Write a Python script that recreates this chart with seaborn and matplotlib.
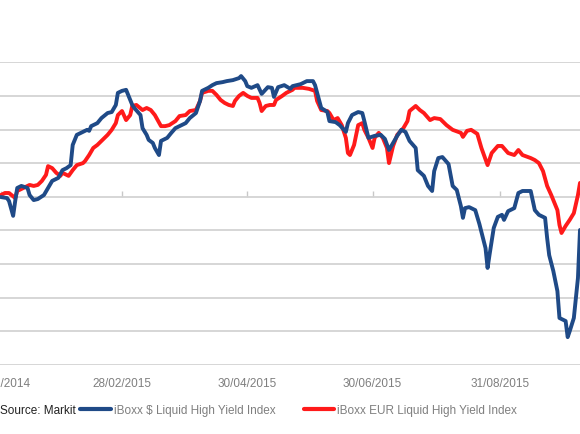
import pandas as pd
import matplotlib
matplotlib.use("Agg")
import matplotlib.pyplot as plt
import matplotlib.dates as mdates
from matplotlib.lines import Line2D
import seaborn as sns

# days since 31/12/2014 (index rebased to 100 on that date)
usd_day = [0, 3, 4, 6, 7, 8, 10, 13, 14, 16, 18, 21, 23, 25, 28, 30, 32, 34, 35, 37,
           40, 42, 43, 44, 47, 49, 52, 54, 56, 57, 59, 61, 62, 64, 65, 68, 69, 71, 72, 74,
           75, 77, 78, 81, 83, 85, 87, 90, 92, 95, 97, 98, 101, 103, 105, 108, 110, 113, 116, 117,
           119, 120, 122, 125, 127, 130, 132, 133, 135, 138, 141, 142, 146, 149, 152, 153, 154, 156, 159, 160,
           163, 165, 168, 169, 171, 174, 176, 177, 179, 182, 185, 187, 189, 193, 195, 197, 199, 202, 203, 206,
           208, 210, 211, 213, 215, 218, 220, 222, 224, 225, 226, 228, 231, 233, 236, 237, 238, 240, 242, 244,
           245, 247, 250, 252, 254, 258, 260, 262, 265, 266, 267, 269, 271, 272, 275, 276, 277, 279, 281, 282]
usd_val = [99.99, 99.96, 99.87, 99.43, 99.87, 100.26, 100.32, 100.26, 100.05, 99.90,
           99.93, 100.05, 100.26, 100.47, 100.56, 100.79, 100.85, 100.94, 101.54, 101.84,
           101.93, 101.99, 101.96, 102.10, 102.19, 102.34, 102.49, 102.52, 102.73, 103.09,
           103.15, 103.18, 103.03, 102.73, 102.64, 102.43, 102.04, 101.84, 101.69, 101.60,
           101.45, 101.24, 101.66, 101.75, 101.90, 102.04, 102.10, 102.19, 102.34, 102.49,
           102.85, 103.15, 103.24, 103.32, 103.38, 103.41, 103.44, 103.47, 103.53, 103.59,
           103.44, 103.29, 103.24, 103.32, 103.06, 103.26, 103.24, 102.97, 103.26, 103.32,
           103.21, 103.29, 103.35, 103.44, 103.44, 103.32, 103.09, 102.64, 102.52, 102.25,
           102.22, 102.13, 101.93, 102.19, 102.43, 102.52, 102.49, 102.25, 101.75, 101.81,
           101.84, 101.72, 101.39, 101.81, 101.99, 101.93, 101.66, 101.45, 100.79, 100.62,
           100.32, 100.17, 100.76, 101.15, 101.18, 100.97, 100.32, 100.20, 99.72, 99.37,
           99.66, 99.69, 99.60, 99.19, 98.47, 97.88, 98.29, 99.07, 99.40, 99.46,
           99.31, 99.57, 99.66, 100.11, 100.17, 100.17, 99.60, 99.46, 99.37, 98.77,
           98.26, 97.79, 97.19, 96.39, 96.30, 95.82, 96.00, 96.39, 97.58, 99.01]

eur_day = [0, 2, 4, 7, 8, 11, 14, 16, 18, 20, 22, 23, 25, 27, 29, 30, 33, 35, 37, 40,
           41, 43, 45, 47, 49, 52, 54, 56, 57, 59, 61, 63, 64, 66, 69, 71, 73, 75, 78, 80,
           82, 85, 87, 90, 92, 95, 97, 98, 101, 103, 105, 107, 109, 111, 113, 114, 116, 118, 120, 122,
           125, 126, 127, 129, 131, 133, 134, 137, 139, 142, 143, 147, 150, 153, 154, 156, 159, 160, 162, 164,
           166, 168, 169, 170, 172, 174, 176, 177, 179, 181, 182, 184, 186, 188, 189, 191, 193, 196, 198, 199,
           202, 204, 206, 209, 211, 214, 217, 220, 224, 225, 227, 229, 232, 234, 237, 239, 242, 244, 247, 250,
           252, 254, 258, 260, 262, 264, 266, 268, 271, 272, 273, 275, 277, 279, 281, 282]
eur_val = [100.05, 100.11, 100.11, 99.96, 100.17, 100.26, 100.35, 100.32, 100.35, 100.47,
           100.65, 100.91, 100.85, 100.71, 100.62, 100.71, 100.62, 100.79, 100.94, 101.00,
           101.06, 101.24, 101.45, 101.54, 101.66, 101.84, 101.99, 102.19, 102.43, 102.55,
           102.28, 102.43, 102.70, 102.73, 102.58, 102.64, 102.58, 102.43, 102.10, 102.10,
           102.13, 102.25, 102.40, 102.43, 102.55, 102.58, 102.85, 103.09, 103.15, 103.15,
           103.03, 102.88, 102.79, 102.73, 102.70, 102.85, 103.00, 103.09, 103.00, 102.94,
           102.94, 102.79, 102.55, 102.70, 102.73, 102.73, 102.88, 103.00, 103.09, 103.18,
           103.24, 103.24, 103.21, 103.15, 102.85, 102.58, 102.55, 102.49, 102.28, 102.34,
           102.13, 101.75, 101.30, 101.24, 101.54, 102.13, 102.19, 101.99, 101.75, 101.45,
           101.75, 101.90, 101.75, 101.45, 101.00, 101.51, 101.84, 102.04, 102.25, 102.55,
           102.70, 102.58, 102.49, 102.28, 102.34, 102.31, 102.13, 101.99, 101.90, 101.78,
           101.96, 101.99, 101.87, 101.45, 100.94, 101.30, 101.51, 101.51, 101.30, 101.24,
           101.39, 101.24, 101.15, 101.09, 101.00, 100.76, 100.32, 100.05, 99.60, 99.16,
           98.92, 99.13, 99.31, 99.51, 100.05, 100.41]

series_names = ["iBoxx $ Liquid High Yield Index", "iBoxx EUR Liquid High Yield Index"]
series_colors = ["#1f4a87", "#ff1a1a"]
tick_dates = ["2014-12-31", "2015-02-28", "2015-04-30", "2015-06-30", "2015-08-31"]
source_text = "Source: Markit"

start = pd.Timestamp("2014-12-31")
df = pd.concat([
    pd.DataFrame({"Date": start + pd.to_timedelta(usd_day, unit="D"),
                  "Value": usd_val, "Index": series_names[0]}),
    pd.DataFrame({"Date": start + pd.to_timedelta(eur_day, unit="D"),
                  "Value": eur_val, "Index": series_names[1]}),
])

sns.set_theme(style="white")
plt.rcParams["font.family"] = ["Liberation Sans", "DejaVu Sans"]

fig = plt.figure(figsize=(5.8, 4.35), dpi=100)
ax = fig.add_axes([0, 1 - 365.7 / 435, 1, (365.7 - 63.3) / 435])

# EUR drawn first so USD sits on top, as in the original
sns.lineplot(data=df[df["Index"] == series_names[1]], x="Date", y="Value",
             color=series_colors[1], linewidth=2.8, estimator=None, sort=False,
             legend=False, ax=ax)
sns.lineplot(data=df[df["Index"] == series_names[0]], x="Date", y="Value",
             color=series_colors[0], linewidth=2.8, estimator=None, sort=False,
             legend=False, ax=ax)

ax.set_ylim(95, 104)
ax.set_yticks(range(95, 105))
ax.set_xlim(start - pd.Timedelta(days=0.4), start + pd.Timedelta(days=282))
ax.grid(axis="y", color="#d3d3d3", linewidth=1.3)
ax.grid(axis="x", visible=False)
ax.set_axisbelow(True)
for s in ax.spines.values():
    s.set_visible(False)
ax.set_xlabel("")
ax.set_ylabel("")
ax.tick_params(axis="y", left=False, labelleft=False)

ticks = pd.to_datetime(tick_dates)
ax.set_xticks(ticks)
ax.xaxis.set_major_formatter(mdates.DateFormatter("%d/%m/%Y"))
ax.tick_params(axis="x", length=0, pad=9, labelsize=8.5, labelcolor="#7f7f7f")

# tick marks sit on the 100 line
axis100 = ax.secondary_xaxis(5 / 9)
axis100.set_xticks(ticks)
axis100.set_xticklabels([""] * len(ticks))
axis100.tick_params(axis="x", direction="out", length=4, width=1, color="#c8c8c8")
axis100.spines["bottom"].set_visible(False)
axis100.spines["top"].set_visible(False)

fig.text(0.0, 1 - 411 / 435, source_text, fontsize=8.5, color="#222222",
         ha="left", va="center")
handles = [Line2D([], [], color=c, linewidth=3) for c in series_colors]
fig.legend(handles, series_names, loc="center left",
           bbox_to_anchor=(80 / 580, 1 - 411 / 435), ncol=2, frameon=False,
           fontsize=8.5, labelcolor="#7f7f7f", handlelength=2.6,
           handletextpad=0.25, columnspacing=2.4, borderpad=0, borderaxespad=0)

fig.savefig("out.png", dpi=100)
